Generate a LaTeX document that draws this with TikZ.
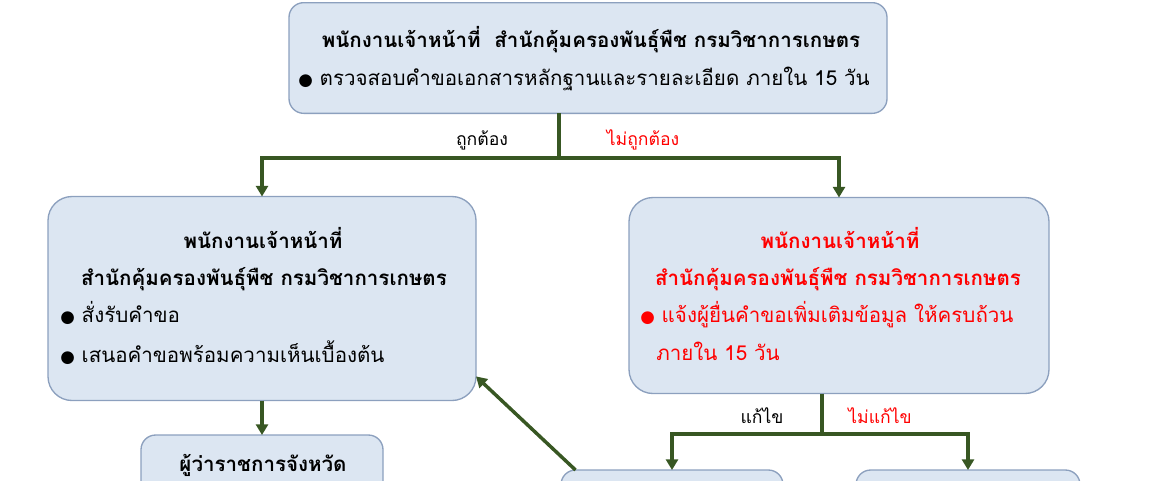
\documentclass[tikz,border=0pt]{standalone}
\usepackage{fontspec}
\newfontfamily\thaifont[Script=Thai]{Loma}
\newfontfamily\dotfont{DejaVu Sans}
\usetikzlibrary{arrows.meta, positioning, calc}
\definecolor{boxfill}{RGB}{220,230,242}
\definecolor{boxline}{RGB}{140,160,190}
\definecolor{flowgreen}{RGB}{56,87,35}
\definecolor{alertred}{RGB}{255,0,0}
\newcommand{\bulletdot}{{\dotfont\fontsize{12.5}{14}\selectfont ●}}

\begin{document}
\begin{tikzpicture}[
        x=0.75pt, y=-0.75pt,
        box/.style={rectangle, draw=boxline, line width=1pt, fill=boxfill, rounded corners=18pt, outer sep=0pt},
        smallbox/.style={box, rounded corners=11pt},
        title/.style={font=\thaifont\bfseries\fontsize{15.4}{18}\selectfont, anchor=base, inner sep=0pt},
        item/.style={font=\thaifont\fontsize{15.4}{18}\selectfont, anchor=base west, inner sep=0pt},
        branch/.style={font=\thaifont\fontsize{13.2}{15}\selectfont, anchor=base, inner sep=0pt},
        arrow/.style={-{Triangle[length=8pt, width=9pt]}, line width=2.6pt, flowgreen},
        stem/.style={line width=2.6pt, flowgreen}
    ]
        \clip (0,0) rectangle (1155,480);

        % boxes
        \node[smallbox, minimum width=448.5pt, minimum height=83pt] (check) at (588,58) {};
        \node[box, minimum width=321pt, minimum height=153pt] (approve) at (262,298.5) {};
        \node[box, minimum width=315pt, minimum height=147pt] (reject) at (839,295.5) {};
        \node[smallbox, minimum width=181.5pt, minimum height=67.5pt] (governor) at (262,480) {};
        \node[smallbox, minimum width=166.5pt, minimum height=67.5pt] (fix) at (672,515) {};
        \node[smallbox, minimum width=168pt, minimum height=67.5pt] (nofix) at (968,515) {};

        % texts
        \node[title] (checktitle) at (591,47) {พนักงานเจ้าหน้าที่~~สำนักคุ้มครองพันธุ์พืช กรมวิชาการเกษตร};
        \node[item] (checkitem) at (298,85) {\bulletdot~ตรวจสอบคำขอเอกสารหลักฐานและรายละเอียด ภายใน 15 วัน};

        \node[title] (approvetitle) at (263,248) {พนักงานเจ้าหน้าที่};
        \node[title] (approveoffice) at (264,285) {สำนักคุ้มครองพันธุ์พืช กรมวิชาการเกษตร};
        \node[item] (approveitema) at (60,322) {\bulletdot~สั่งรับคำขอ};
        \node[item] (approveitemb) at (60,362) {\bulletdot~เสนอคำขอพร้อมความเห็นเบื้องต้น};

        \node[title, alertred] (rejecttitle) at (840,248) {พนักงานเจ้าหน้าที่};
        \node[title, alertred] (rejectoffice) at (838,285) {สำนักคุ้มครองพันธุ์พืช กรมวิชาการเกษตร};
        \node[item, alertred] (rejectitem) at (640,322) {\bulletdot~แจ้งผู้ยื่นคำขอเพิ่มเติมข้อมูล ให้ครบถ้วน};
        \node[item, alertred] (rejectdays) at (656,360) {ภายใน 15 วัน};

        \node[title] (governortitle) at (263,471) {ผู้ว่าราชการจังหวัด};

        % connectors
        \coordinate (split1) at (559,158);
        \coordinate (split2) at (822,434);
        \draw[stem] (check.south -| split1) -- (split1);
        \draw[arrow] (split1) -| (approve.north);
        \draw[arrow] (split1) -| (reject.north);
        \node[branch] (correct) at (482,145) {ถูกต้อง};
        \node[branch, alertred] (incorrect) at (643,145) {ไม่ถูกต้อง};

        \draw[stem] (reject.south -| split2) -- (split2);
        \draw[arrow] (split2) -| (fix.north);
        \draw[arrow] (split2) -| (nofix.north);
        \node[branch] (amend) at (762,423) {แก้ไข};
        \node[branch, alertred] (noamend) at (880,423) {ไม่แก้ไข};

        \draw[arrow] (approve.south) -- (governor.north);
        \draw[arrow] (fix.155.8) -- (approve.-20.5);
    \end{tikzpicture}
\end{document}
